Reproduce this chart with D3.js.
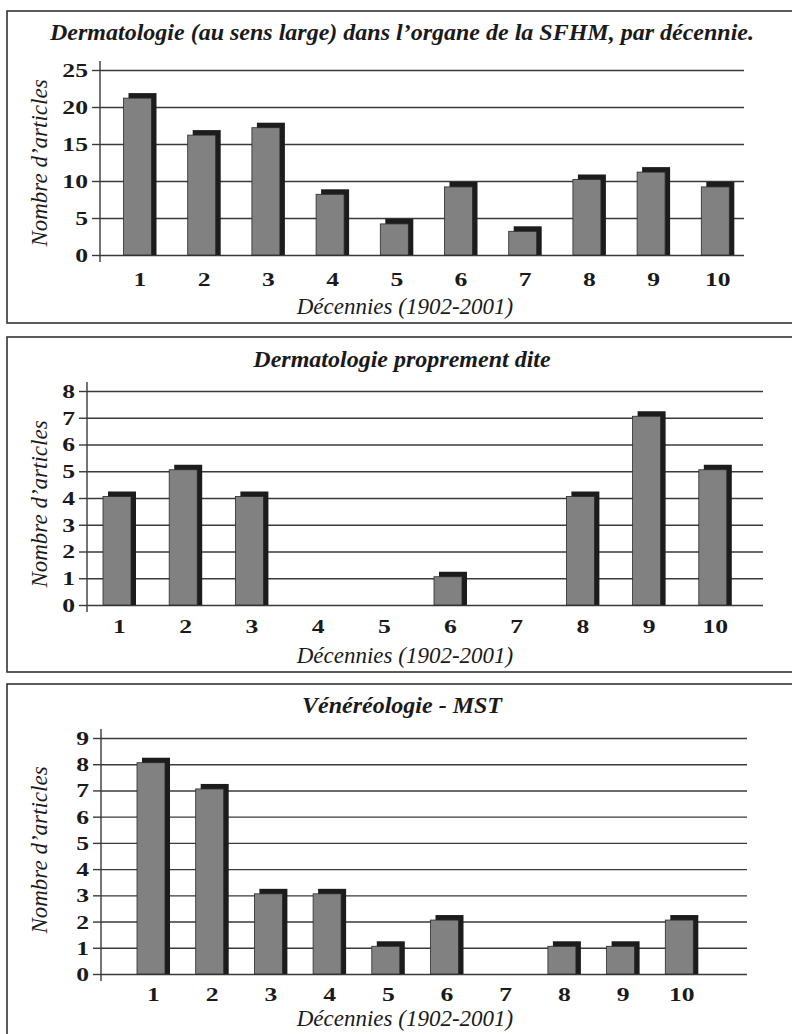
<!doctype html>
<html lang="fr">
<head>
<meta charset="utf-8">
<title>Dermatologie dans l'organe de la SFHM</title>
<script src="https://cdn.jsdelivr.net/npm/d3@7"></script>
<style>
  body { margin: 0; background: #fff; }
</style>
</head>
<body>
<svg id="fig" width="792" height="1034"></svg>
<script>
// decades 1902-2001, numbered 1..10
const decades = [1, 2, 3, 4, 5, 6, 7, 8, 9, 10];

const largeTitle = "Dermatologie (au sens large) dans l\u2019organe de la SFHM, par décennie.";
const largeValues = [21, 16, 17, 8, 4, 9, 3, 10, 11, 9];
const largeTicks = [0, 5, 10, 15, 20, 25];

const properTitle = "Dermatologie proprement dite";
const properValues = [4, 5, 4, 0, 0, 1, 0, 4, 7, 5];
const properTicks = [0, 1, 2, 3, 4, 5, 6, 7, 8];

const mstTitle = "Vénéréologie - MST";
const mstValues = [8, 7, 3, 3, 1, 2, 0, 1, 1, 2];
const mstTicks = [0, 1, 2, 3, 4, 5, 6, 7, 8, 9];

const yLabel = "Nombre d\u2019articles";
const xLabel = "Décennies (1902-2001)";

const FONT = "'Liberation Serif', 'Times New Roman', 'DejaVu Serif', serif";
const INK = "#1a1a1a";
const digitStretch = 1.35; // the scan's numerals are much wider than Times

const svg = d3.select("#fig").attr("font-family", FONT);

// one box per chart, layout
const panels = [
  { title: largeTitle, values: largeValues, ticks: largeTicks,
    box: [7, 11, 793, 323], left: 100, right: 744, top: 70, bottom: 255,
    c1: 140, step: 64.2, titleY: 40, catY: 286, xLabY: 314, yLabY: 163 },
  { title: properTitle, values: properValues, ticks: properTicks,
    box: [7, 337, 793, 672], left: 87, right: 763, top: 391, bottom: 605,
    c1: 119.5, step: 66.2, titleY: 367, catY: 633, xLabY: 663, yLabY: 504 },
  { title: mstTitle, values: mstValues, ticks: mstTicks,
    box: [7, 684, 793, 1040], left: 101, right: 747, top: 738, bottom: 974,
    c1: 153.5, step: 58.7, titleY: 713, catY: 1001, xLabY: 1026, yLabY: 850 }
];

const barW = 28, depth = 5, lift = 1.5;
const tickLen = 8, tickPad = 4;

panels.forEach(p => {
  const g = svg.append("g");

  g.append("rect")
    .attr("x", p.box[0]).attr("y", p.box[1])
    .attr("width", p.box[2] - p.box[0]).attr("height", p.box[3] - p.box[1])
    .attr("fill", "none").attr("stroke", "#333").attr("stroke-width", 1.6);

  const y = d3.scaleLinear()
    .domain([0, d3.max(p.ticks)])
    .range([p.bottom, p.top]);

  const x = d3.scaleBand()
    .domain(decades)
    .range([p.c1 - p.step / 2, p.c1 - p.step / 2 + p.step * decades.length]);

  // gridlines
  g.append("g")
    .attr("transform", `translate(${p.left},0)`)
    .call(d3.axisLeft(y).tickValues(p.ticks).tickSize(-(p.right - p.left)).tickFormat(""))
    .call(s => s.select(".domain").remove())
    .call(s => s.selectAll("line").attr("stroke", "#3a3a3a").attr("stroke-width", 1.4));

  // y axis with labels
  g.append("g")
    .attr("transform", `translate(${p.left},0)`)
    .call(d3.axisLeft(y).tickValues(p.ticks).tickSize(tickLen).tickSizeOuter(0).tickPadding(tickPad))
    .attr("font-family", FONT).attr("font-size", 19).attr("font-weight", "bold")
    .call(s => s.select(".domain").remove())
    .call(s => s.selectAll("line").attr("stroke", "#3a3a3a").attr("stroke-width", 1.4))
    .call(s => s.selectAll("text")
      .attr("fill", INK).attr("dy", "0.34em").attr("x", 0)
      .attr("transform", `translate(${-(tickLen + tickPad)},0) scale(${digitStretch},1)`));

  g.append("line")
    .attr("x1", p.left).attr("x2", p.left)
    .attr("y1", p.top - 9).attr("y2", p.bottom + 7)
    .attr("stroke", "#3a3a3a").attr("stroke-width", 1.4);

  // bars: dark back face then grey front face
  const bars = g.append("g").selectAll("g")
    .data(decades.map((d, i) => ({ d, v: p.values[i] })).filter(o => o.v > 0))
    .join("g");

  const bx = o => x(o.d) + (p.step - barW - depth) / 2;

  bars.append("rect")
    .attr("x", o => bx(o) + depth)
    .attr("y", o => y(o.v) - lift - depth)
    .attr("width", barW)
    .attr("height", o => p.bottom - y(o.v) + lift + depth)
    .attr("fill", "#1c1c1c");

  bars.append("rect")
    .attr("x", bx)
    .attr("y", o => y(o.v) - lift)
    .attr("width", barW)
    .attr("height", o => p.bottom - y(o.v) + lift)
    .attr("fill", "#818181")
    .attr("stroke", "#2a2a2a").attr("stroke-width", 0.8);

  // category labels
  g.append("g").selectAll("text")
    .data(decades)
    .join("text")
    .attr("transform", d => `translate(${x(d) + p.step / 2},${p.catY}) scale(${digitStretch},1)`)
    .attr("text-anchor", "middle")
    .attr("font-size", 19).attr("font-weight", "bold")
    .attr("fill", INK)
    .text(d => d);

  g.append("text")
    .attr("x", 402).attr("y", p.titleY)
    .attr("text-anchor", "middle")
    .attr("font-size", 24).attr("font-weight", "bold").attr("font-style", "italic")
    .attr("fill", INK)
    .text(p.title);

  g.append("text")
    .attr("x", 405).attr("y", p.xLabY)
    .attr("text-anchor", "middle")
    .attr("font-size", 23).attr("font-style", "italic")
    .attr("fill", INK)
    .text(xLabel);

  g.append("text")
    .attr("transform", `translate(47,${p.yLabY}) rotate(-90)`)
    .attr("text-anchor", "middle")
    .attr("font-size", 23).attr("font-style", "italic")
    .attr("fill", INK)
    .text(yLabel);
});
</script>
</body>
</html>
